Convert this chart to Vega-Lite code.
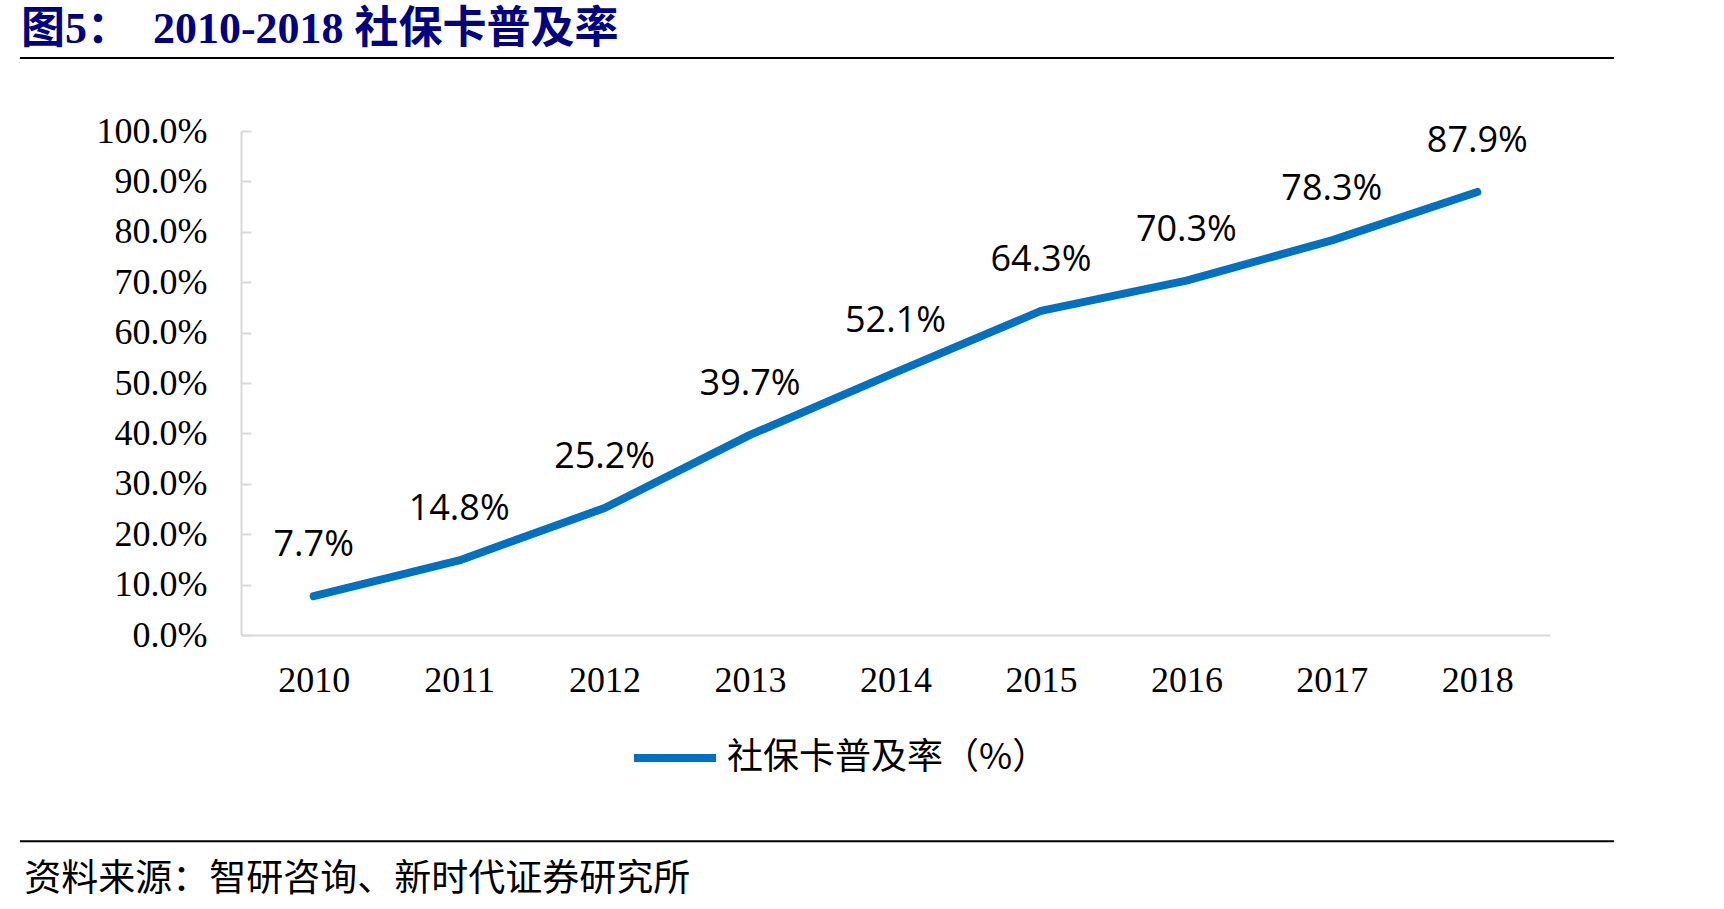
{
  "$schema": "https://vega.github.io/schema/vega-lite/v6.json",
  "width": 1309,
  "height": 504,
  "autosize": {"type": "none"},
  "padding": {"left": 241, "top": 131, "right": 174, "bottom": 274},
  "background": "white",
  "config": {"view": {"stroke": null}},
  "title": {
    "text": "图5：　2010-2018 社保卡普及率",
    "anchor": "start",
    "frame": "bounds",
    "font": "Liberation Serif, Noto Sans CJK SC",
    "fontWeight": "bold",
    "fontSize": 44,
    "color": "#000080",
    "baseline": "alphabetic",
    "offset": 11,
    "dx": 2,
    "dy": 41
  },
  "datasets": {
    "rates": [
      {"year": 2010, "rate": 0.077, "series": "社保卡普及率（%）"},
      {"year": 2011, "rate": 0.148, "series": "社保卡普及率（%）"},
      {"year": 2012, "rate": 0.252, "series": "社保卡普及率（%）"},
      {"year": 2013, "rate": 0.397, "series": "社保卡普及率（%）"},
      {"year": 2014, "rate": 0.521, "series": "社保卡普及率（%）"},
      {"year": 2015, "rate": 0.643, "series": "社保卡普及率（%）"},
      {"year": 2016, "rate": 0.703, "series": "社保卡普及率（%）"},
      {"year": 2017, "rate": 0.783, "series": "社保卡普及率（%）"},
      {"year": 2018, "rate": 0.879, "series": "社保卡普及率（%）"}
    ],
    "note": [
      {"source": "资料来源：智研咨询、新时代证券研究所"}
    ]
  },
  "resolve": {"scale": {"x": "shared", "y": "shared"}},
  "layer": [
    {
      "data": {"name": "rates"},
      "mark": {"type": "line", "strokeWidth": 8, "strokeCap": "round", "strokeJoin": "round"},
      "encoding": {
        "x": {
          "field": "year",
          "type": "quantitative",
          "scale": {"domain": [2009.5, 2018.5], "nice": false, "zero": false},
          "axis": {
            "title": null,
            "values": [2010, 2011, 2012, 2013, 2014, 2015, 2016, 2017, 2018],
            "format": "d",
            "grid": false,
            "ticks": false,
            "labelFlush": false,
            "labelFont": "Liberation Serif",
            "labelFontSize": 36,
            "labelColor": "#000000",
            "labelPadding": 28,
            "domainColor": "#D9D9D9",
            "domainWidth": 2
          }
        },
        "y": {
          "field": "rate",
          "type": "quantitative",
          "scale": {"domain": [0, 1], "nice": false},
          "axis": {
            "title": null,
            "values": [0, 0.1, 0.2, 0.3, 0.4, 0.5, 0.6, 0.7, 0.8, 0.9, 1.0],
            "format": ".1%",
            "grid": false,
            "tickSize": -10,
            "tickColor": "#D9D9D9",
            "tickWidth": 2,
            "labelFont": "Liberation Serif",
            "labelFontSize": 36,
            "labelColor": "#000000",
            "labelPadding": 44,
            "domainColor": "#D9D9D9",
            "domainWidth": 2
          }
        },
        "color": {
          "field": "series",
          "type": "nominal",
          "scale": {"range": ["#0070C0"]},
          "legend": {
            "title": null,
            "orient": "none",
            "legendX": 389,
            "legendY": 582,
            "direction": "horizontal",
            "symbolType": "stroke",
            "symbolSize": 6724,
            "symbolStrokeWidth": 8,
            "labelFont": "Noto Sans CJK SC",
            "labelFontSize": 36,
            "labelColor": "#000000",
            "labelLimit": 0,
            "labelOffset": 7,
            "padding": 0
          }
        }
      }
    },
    {
      "data": {"name": "rates"},
      "mark": {
        "type": "text",
        "dy": -51,
        "align": "center",
        "baseline": "middle",
        "font": "Open Sans",
        "fontSize": 36,
        "color": "#000000"
      },
      "encoding": {
        "x": {"field": "year", "type": "quantitative"},
        "y": {"field": "rate", "type": "quantitative"},
        "text": {"field": "rate", "type": "quantitative", "format": ".1%"}
      }
    },
    {
      "data": {"name": "note"},
      "mark": {"type": "rule", "color": "#000000", "strokeWidth": 2},
      "encoding": {
        "x": {"datum": 2007.98, "type": "quantitative"},
        "x2": {"datum": 2018.94, "type": "quantitative"},
        "y": {"datum": 1.1447, "type": "quantitative"}
      }
    },
    {
      "data": {"name": "note"},
      "mark": {"type": "rule", "color": "#000000", "strokeWidth": 2},
      "encoding": {
        "x": {"datum": 2007.98, "type": "quantitative"},
        "x2": {"datum": 2018.94, "type": "quantitative"},
        "y": {"datum": -0.4093, "type": "quantitative"}
      }
    },
    {
      "data": {"name": "note"},
      "mark": {
        "type": "text",
        "align": "left",
        "baseline": "middle",
        "font": "Noto Sans CJK SC",
        "fontSize": 37,
        "color": "#000000"
      },
      "encoding": {
        "x": {"datum": 2008.01, "type": "quantitative"},
        "y": {"datum": -0.4854, "type": "quantitative"},
        "text": {"field": "source", "type": "nominal"}
      }
    }
  ]
}
